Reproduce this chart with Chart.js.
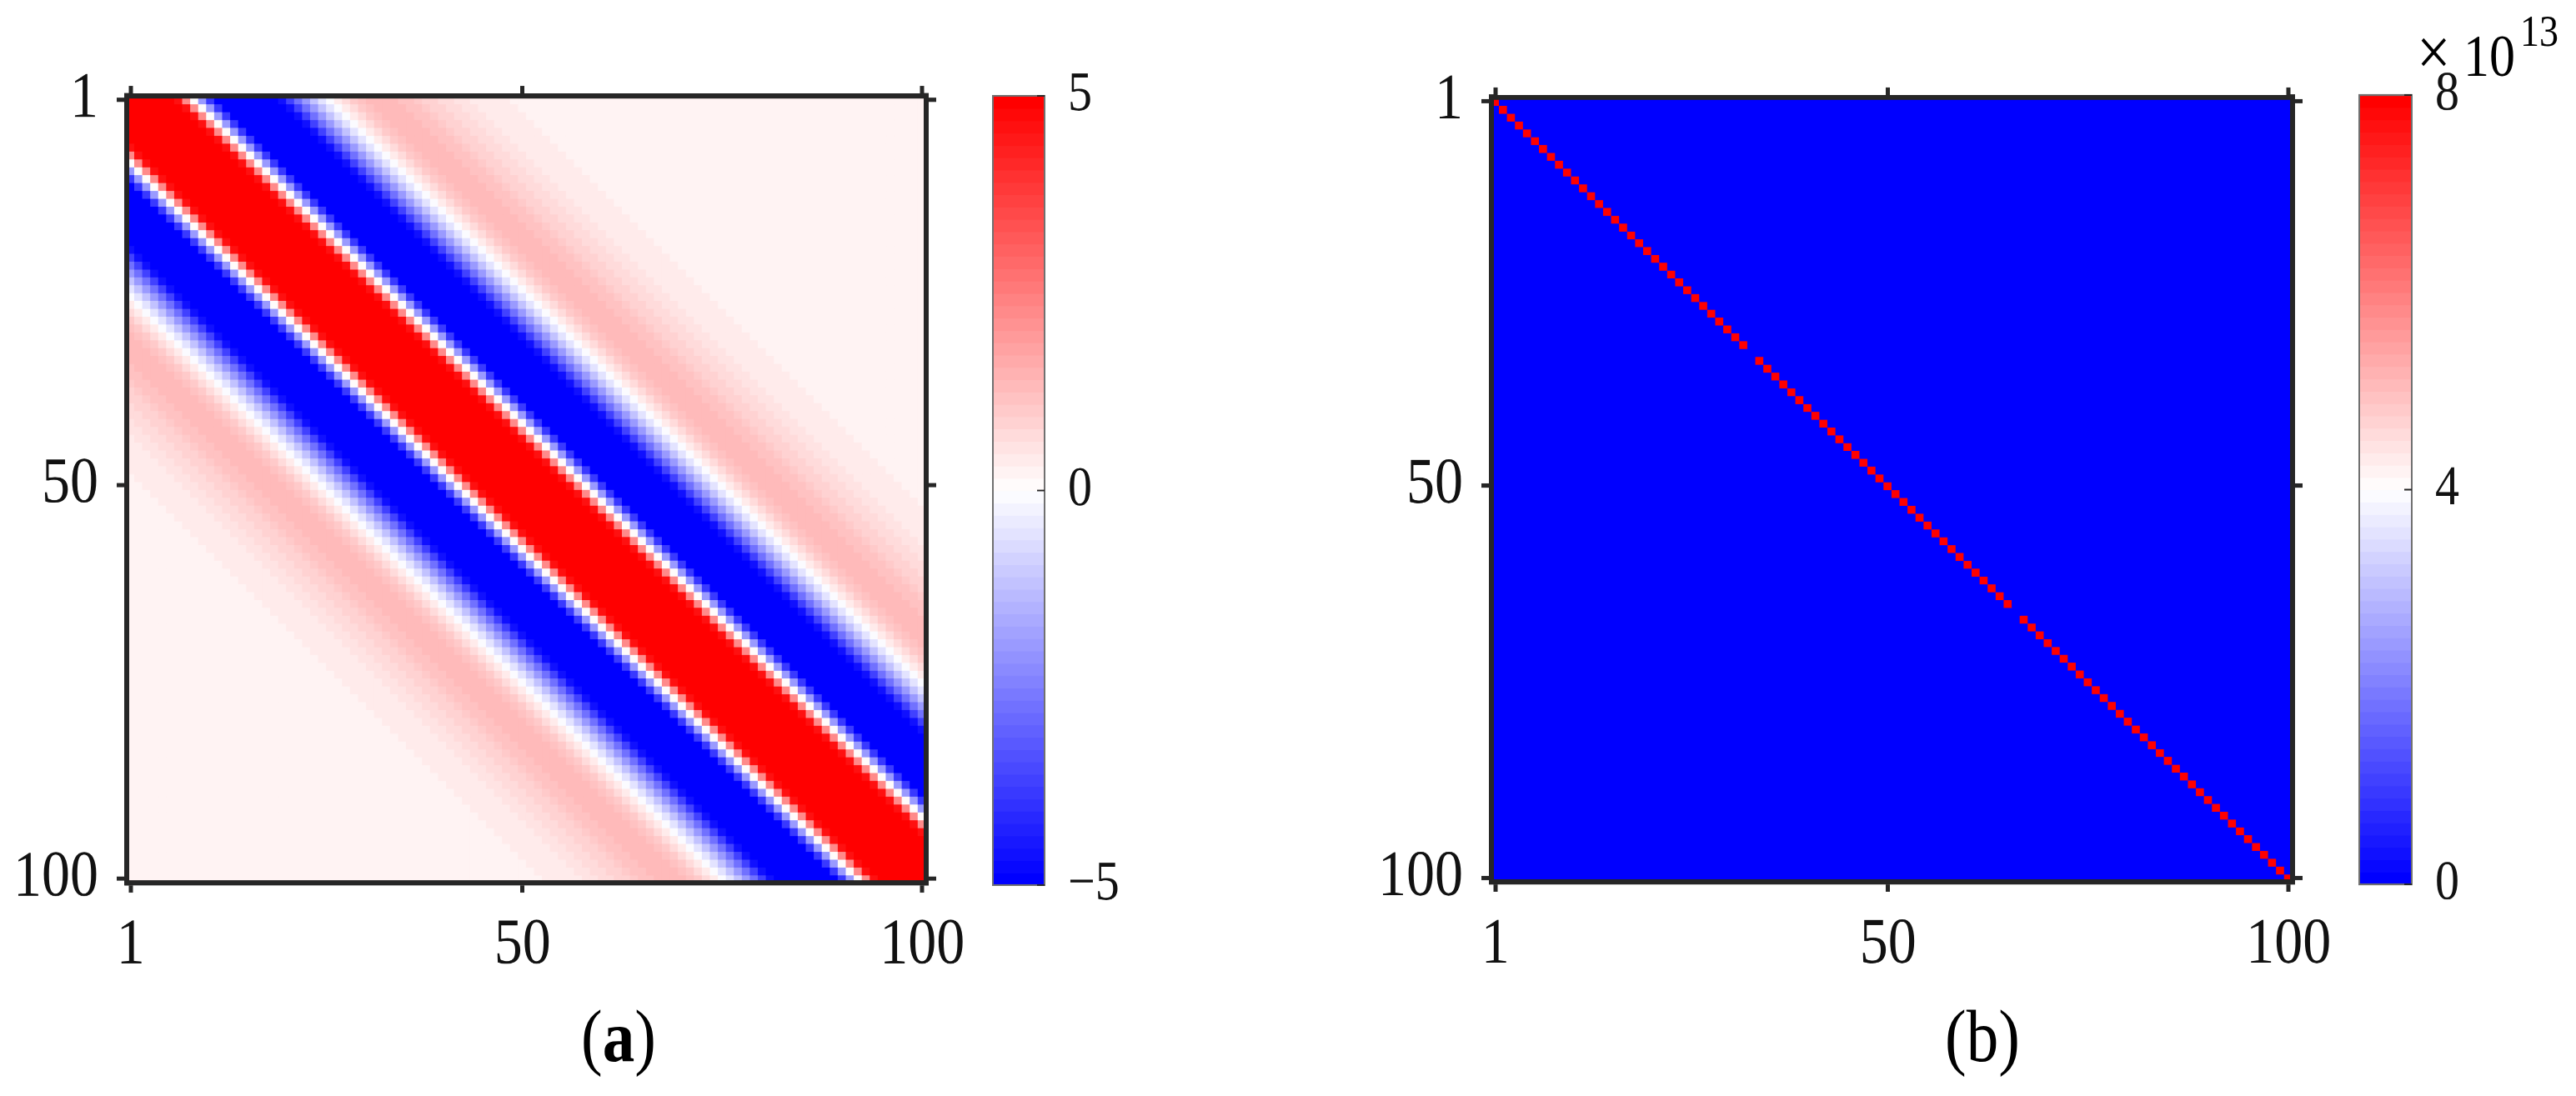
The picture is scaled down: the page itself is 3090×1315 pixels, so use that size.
<!DOCTYPE html>
<html>
<head>
<meta charset="utf-8">
<script src="https://cdn.jsdelivr.net/npm/chart.js@4.4.1/dist/chart.umd.min.js"></script>
<style>
  html, body { margin: 0; padding: 0; background: #fff; width: 3090px; height: 1315px; overflow: hidden; }
  /* the original figure is stretched vertically a little; draw at 1/S and stretch back */
  #stage { position: absolute; left: 0; top: 0; width: 3090px; height: 1143.5px; transform: scaleY(1.15); transform-origin: 0 0; }
  canvas { position: absolute; top: 0; }
  .cap { position: absolute; font-family: "Liberation Serif", serif; color: #000; line-height: 1; white-space: nowrap; }
</style>
</head>
<body>
<div id="stage">
  <canvas id="heatA" width="1180" height="1030" style="left:0px"></canvas>
  <canvas id="cbarA" width="200" height="1030" style="left:1185px"></canvas>
  <canvas id="heatB" width="1199" height="1030" style="left:1620px"></canvas>
  <canvas id="cbarB" width="266" height="1030" style="left:2824px"></canvas>

  <div class="cap" style="left:642px; width:200px; text-align:center; top:1043px; font-size:77px">(<b>a</b>)</div>
  <div class="cap" style="left:2278px; width:200px; text-align:center; top:1043px; font-size:77px">(b)</div>
  <div class="cap" style="left:2899px; top:18px; font-size:72px">&times;</div>
  <div class="cap" style="left:2955px; top:27px; font-size:62px">10</div>
  <div class="cap" style="left:3023px; top:10px; font-size:46px">13</div>
</div>

<script>
const S = 1.15;

// matrix (a) is symmetric Toeplitz: value by distance |row - col| from the diagonal
const profileA = [
  30.0, 28.5, 25.0, 20.0, 14.5, 9.0, 4.6, 2.2, 0.0, -1.9,
  -3.9, -5.6, -7.0, -8.0, -8.6, -8.6, -8.1, -7.1, -5.8, -4.6,
  -3.6, -2.7, -1.9, -1.2, -0.6, -0.1, 0.35, 0.7, 0.95, 1.15,
  1.25, 1.3, 1.3, 1.25, 1.2, 1.1, 1.0, 0.9, 0.8, 0.72,
  0.64, 0.57, 0.51, 0.46, 0.42, 0.38, 0.35, 0.33, 0.31, 0.3,
  0.29, 0.29, 0.28, 0.28, 0.27, 0.27, 0.27, 0.26, 0.26, 0.26,
  0.26, 0.26, 0.25, 0.25, 0.25, 0.25, 0.25, 0.25, 0.25, 0.25,
  0.25, 0.25, 0.25, 0.25, 0.25, 0.25, 0.25, 0.25, 0.25, 0.25,
  0.25, 0.25, 0.25, 0.25, 0.25, 0.25, 0.25, 0.25, 0.25, 0.25,
  0.25, 0.25, 0.25, 0.25, 0.25, 0.25, 0.25, 0.25, 0.25, 0.25,
];

// matrix (b) is diagonal: diagonal entries in units of 1e13, zero elsewhere
const diagB = [
  8, 8, 8, 8, 8, 8, 8, 8, 8, 8,
  8, 8, 8, 8, 8, 8, 8, 8, 8, 8,
  8, 8, 8, 8, 8, 8, 8, 8, 8, 8,
  8, 8, 0, 8, 8, 8, 8, 8, 8, 8,
  8, 8, 8, 8, 8, 8, 8, 8, 8, 8,
  8, 8, 8, 8, 8, 8, 8, 8, 8, 8,
  8, 8, 8, 8, 8, 0, 8, 8, 8, 8,
  8, 8, 8, 8, 8, 8, 8, 8, 8, 8,
  8, 8, 8, 8, 8, 8, 8, 8, 8, 8,
  8, 8, 8, 8, 8, 8, 8, 8, 8, 8,
];

const axisTicks = [1, 50, 100];
const climA = [-5, 5];
const climB = [0, 8e13];
const cbarTicksA = [-5, 0, 5];
const cbarTicksB = [0, 4e13, 8e13];
const N_LEVELS = 64;

const FRAME = "#262626";
const TEXT = "#111";
const tickFont = { family: "Liberation Serif", size: 68, lineHeight: 1 };
const cbarFont = { family: "Liberation Serif", size: 58, lineHeight: 1 };
const size = profileA.length;

// blue - white - red, 64 steps
function levelColor(k) {
  const t = k / (N_LEVELS - 1);
  let r, g, b;
  if (t < 0.5) {
    r = g = Math.round(510 * t);
    b = 255;
  } else {
    r = 255;
    g = b = Math.round(510 * (1 - t));
  }
  return `rgb(${r},${g},${b})`;
}

function cmap(v, lim) {
  let k = Math.floor(((v - lim[0]) / (lim[1] - lim[0])) * N_LEVELS);
  k = Math.max(0, Math.min(N_LEVELS - 1, k));
  return levelColor(k);
}

const cellA = (r, c) => profileA[Math.abs(r - c)];
const cellB = (r, c) => (r === c ? diagB[r - 1] * 1e13 : 0);

// one dataset per row, one floating bar per cell
function heatDatasets(cell, lim) {
  const sets = [];
  for (let r = 1; r <= size; r++) {
    const data = [];
    const colors = [];
    for (let c = 1; c <= size; c++) {
      data.push({ x: c, y: [r - 0.5, r + 0.5] });
      colors.push(cmap(cell(r, c), lim));
    }
    sets.push({ data, backgroundColor: colors });
  }
  return sets;
}

const fixTicks = (vals) => (s) => {
  s.ticks = vals.map((v) => ({ value: v }));
};

const baseOptions = {
  responsive: false,
  animation: false,
  devicePixelRatio: 2,
  events: [],
  plugins: { legend: { display: false }, tooltip: { enabled: false } },
  datasets: {
    bar: {
      grouped: false,
      barPercentage: 1,
      categoryPercentage: 1,
      borderWidth: 0,
      inflateAmount: 0.6,
      clip: 0,
    },
  },
};

function makeHeat(id, datasets, box) {
  const hAxis = (pos, show) => ({
    type: "linear",
    position: pos,
    min: 0.5,
    max: size + 0.5,
    offset: false,
    afterBuildTicks: fixTicks(axisTicks),
    afterFit: (s) => {
      s.height = pos === "top" ? box.top : box.bottom;
    },
    grid: {
      offset: false,
      drawOnChartArea: false,
      tickLength: 12 / S,
      tickWidth: 5,
      tickColor: FRAME,
      lineWidth: 6,
    },
    border: { width: 6 / S, color: FRAME, z: 1 },
    ticks: {
      display: show,
      autoSkip: false,
      maxRotation: 0,
      padding: 22,
      color: TEXT,
      font: tickFont,
      callback: (v) => String(v),
    },
  });
  const vAxis = (pos, show) => ({
    type: "linear",
    position: pos,
    min: 0.5,
    max: size + 0.5,
    reverse: true,
    afterBuildTicks: fixTicks(axisTicks),
    afterFit: (s) => {
      s.width = pos === "left" ? box.left : box.right;
    },
    grid: {
      drawOnChartArea: false,
      tickLength: 12,
      tickWidth: 5 / S,
      tickColor: FRAME,
      lineWidth: 6 / S,
    },
    border: { width: 6, color: FRAME, z: 1 },
    ticks: {
      display: show,
      autoSkip: false,
      padding: 22,
      color: TEXT,
      font: tickFont,
      callback: (v) => String(v),
    },
  });

  return new Chart(document.getElementById(id), {
    type: "bar",
    data: { datasets },
    options: {
      ...baseOptions,
      layout: { padding: 0 },
      scales: {
        x: hAxis("bottom", true),
        x2: hAxis("top", false),
        y: vAxis("left", true),
        y2: vAxis("right", false),
      },
    },
  });
}

// colorbar outline and the small inward tick marks
const cbarFrame = {
  id: "cbarFrame",
  afterDatasetsDraw(chart) {
    const { ctx, chartArea: a, scales } = chart;
    ctx.save();
    ctx.strokeStyle = "#707070";
    ctx.lineWidth = 2;
    ctx.strokeRect(a.left, a.top, a.right - a.left, a.bottom - a.top);
    ctx.strokeStyle = FRAME;
    ctx.lineWidth = 2 / S;
    scales.y.ticks.forEach((t) => {
      const py = scales.y.getPixelForValue(t.value);
      ctx.beginPath();
      ctx.moveTo(a.right, py);
      ctx.lineTo(a.right - 9, py);
      ctx.stroke();
    });
    ctx.restore();
  },
};

function makeCbar(id, lim, ticks, fmt, box) {
  const step = (lim[1] - lim[0]) / N_LEVELS;
  const data = [];
  const colors = [];
  for (let k = 0; k < N_LEVELS; k++) {
    data.push({ x: 1, y: [lim[0] + k * step, lim[0] + (k + 1) * step] });
    colors.push(levelColor(k));
  }
  return new Chart(document.getElementById(id), {
    type: "bar",
    data: { datasets: [{ data, backgroundColor: colors }] },
    options: {
      ...baseOptions,
      layout: { padding: { left: box.left, top: box.top, bottom: box.bottom, right: 0 } },
      scales: {
        x: {
          type: "linear",
          display: false,
          min: 0.5,
          max: 1.5,
          offset: false,
          afterBuildTicks: fixTicks([1]),
        },
        y: {
          position: "right",
          min: lim[0],
          max: lim[1],
          afterBuildTicks: fixTicks(ticks),
          afterFit: (s) => {
            s.width = box.axis;
          },
          grid: { display: false },
          border: { display: false },
          ticks: {
            autoSkip: false,
            padding: 20,
            color: TEXT,
            font: cbarFont,
            callback: fmt,
          },
        },
      },
    },
    plugins: [cbarFrame],
  });
}

const H = 1030;

makeHeat("heatA", heatDatasets(cellA, climA), {
  left: 152,
  right: 1180 - 1111,
  top: 115 / S,
  bottom: H - 1059 / S,
});

makeHeat("heatB", heatDatasets(cellB, climB), {
  left: 1789 - 1620,
  right: 1620 + 1199 - 2750,
  top: 117 / S,
  bottom: H - 1058 / S,
});

makeCbar("cbarA", climA, cbarTicksA, (v) => (v < 0 ? "\u2212" + -v : String(v)), {
  left: 6,
  top: 115 / S,
  bottom: H - 1062 / S,
  axis: 200 - 6 - 62,
});

makeCbar("cbarB", climB, cbarTicksB, (v) => String(v / 1e13), {
  left: 6,
  top: 114 / S,
  bottom: H - 1061 / S,
  axis: 266 - 6 - 63,
});
</script>
</body>
</html>
